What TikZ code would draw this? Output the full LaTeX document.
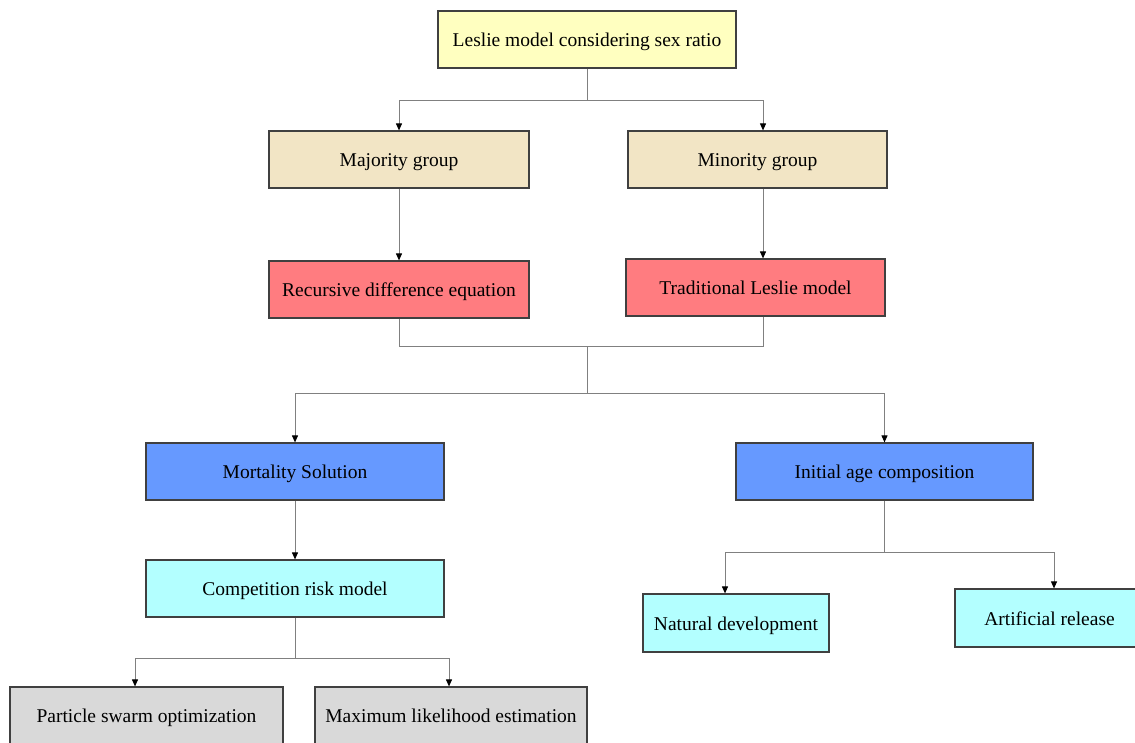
\documentclass[tikz,border=0pt]{standalone}
\usepackage{fontspec}
\setmainfont{Liberation Serif}
\usetikzlibrary{arrows.meta}
\definecolor{cTop}{HTML}{FFFFC0}
\definecolor{cBeige}{HTML}{F2E5C5}
\definecolor{cRed}{HTML}{FF7C80}
\definecolor{cBlue}{HTML}{6699FF}
\definecolor{cCyan}{HTML}{B3FFFF}
\definecolor{cGray}{HTML}{D9D9D9}
\definecolor{cLine}{HTML}{808080}
\definecolor{cBorder}{HTML}{404040}
\tikzset{
  box/.style={draw=cBorder, line width=1.2pt, rectangle, inner sep=0pt, minimum height=57pt,
    text height=14pt, text depth=0pt,
    font=\fontsize{19.5}{23}\selectfont, text=black},
  link/.style={draw=cLine, line width=1pt},
  arr/.style={link, -{Triangle[length=7pt,width=6pt,color=black]}},
}
\begin{document}
\begin{tikzpicture}[x=1pt,y=-1pt]
\useasboundingbox (0,0) rectangle (1135,742);
\clip (0,0) rectangle (1135,742);
\fill[white] (0,0) rectangle (1135,742);
% nodes
\node[box, fill=cTop, minimum width=298pt] (top) at (587,39.5) {Leslie model considering sex ratio};
\node[box, fill=cBeige, minimum width=260pt] (maj) at (399,159.5) {Majority group};
\node[box, fill=cBeige, minimum width=259pt] (min) at (757.5,159.5) {Minority group};
\node[box, fill=cRed, minimum width=260pt] (rec) at (399,289.5) {Recursive difference equation};
\node[box, fill=cRed, minimum width=259pt] (trad) at (755.5,287.5) {Traditional Leslie model};
\node[box, fill=cBlue, minimum width=298pt] (mort) at (295,471.5) {Mortality Solution};
\node[box, fill=cBlue, minimum width=297pt] (init) at (884.5,471.5) {Initial age composition};
\node[box, fill=cCyan, minimum width=298pt] (comp) at (295,588.5) {Competition risk model};
\node[box, fill=cCyan, minimum width=186pt, minimum height=58pt] (nat) at (736,623) {Natural development};
\node[box, fill=cCyan, minimum width=189pt, minimum height=58pt] (art) at (1049.5,618) {Artificial release};
\node[box, fill=cGray, minimum width=273pt] (pso) at (146.5,715.5) {Particle swarm optimization};
\node[box, fill=cGray, minimum width=272pt] (mle) at (451,715.5) {Maximum likelihood estimation};
% helper coordinates
\coordinate (j1) at (587,100);
\coordinate (mx) at (763,0);
\coordinate (j2) at (587,346);
\coordinate (j3) at (587,393);
\coordinate (j4) at (295,658);
\coordinate (j5) at (884.5,552);
\coordinate (px) at (135,0);
\coordinate (lx) at (449,0);
\coordinate (nx) at (725,0);
\coordinate (ax) at (1054,0);
% connectors
\draw[link] (top.south) -- (j1);
\draw[arr] (j1) -| (maj.north);
\draw[arr] (j1) -| (min.north -| mx);
\draw[arr] (maj.south) -- (rec.north);
\draw[arr] (min.south -| mx) -- (trad.north -| mx);
\draw[link] (rec.south) |- (j2);
\draw[link] (trad.south -| mx) |- (j2);
\draw[link] (j2) -- (j3);
\draw[arr] (j3) -| (mort.north);
\draw[arr] (j3) -| (init.north);
\draw[arr] (mort.south) -- (comp.north);
\draw[link] (comp.south) -- (j4);
\draw[arr] (j4) -| (pso.north -| px);
\draw[arr] (j4) -| (mle.north -| lx);
\draw[link] (init.south) -- (j5);
\draw[arr] (j5) -| (nat.north -| nx);
\draw[arr] (j5) -| (art.north -| ax);
\end{tikzpicture}
\end{document}
